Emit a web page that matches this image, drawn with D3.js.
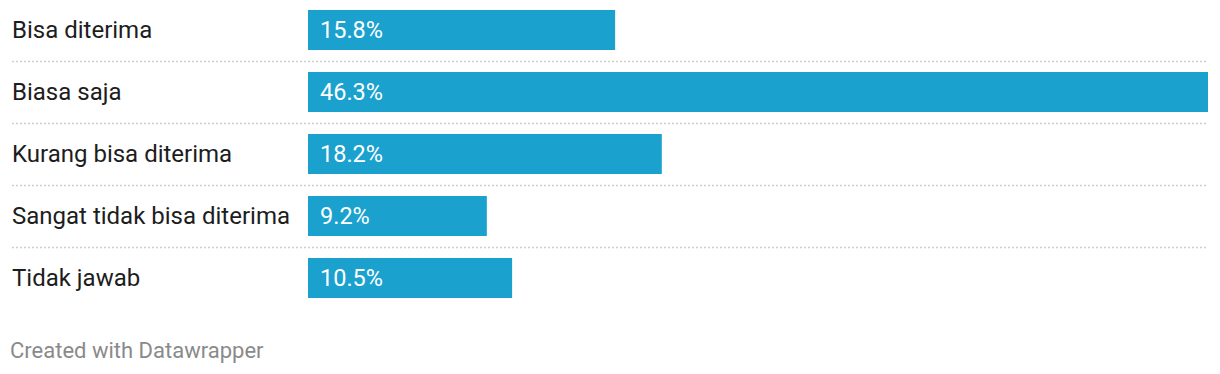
<!DOCTYPE html>
<html>
<head>
<meta charset="utf-8">
<script src="https://cdn.jsdelivr.net/npm/d3@7"></script>
<style>
  body { margin: 0; background: #fff; font-family: Roboto, "Noto Sans", sans-serif; }
</style>
</head>
<body>
<div id="chart"></div>
<script>
const categories = ["Bisa diterima", "Biasa saja", "Kurang bisa diterima", "Sangat tidak bisa diterima", "Tidak jawab"];
const values = [15.8, 46.3, 18.2, 9.2, 10.5];
const footerText = "Created with Datawrapper";

const width = 1220, height = 374;
const barLeft = 308, barRight = 1208;
const rowStep = 62, barH = 40, chartTop = 10;

const svg = d3.select("#chart").append("svg")
    .attr("width", width)
    .attr("height", height);

const x = d3.scaleLinear()
    .domain([0, d3.max(values)])
    .range([barLeft, barRight]);

const y = d3.scaleBand()
    .domain(categories)
    .range([chartTop, chartTop + rowStep * (categories.length - 1) + barH])
    .paddingInner((rowStep - barH) / rowStep)
    .paddingOuter(0);

const rows = categories.map(function (c, i) { return { label: c, value: values[i] }; });

// dotted separators between rows
svg.selectAll("line.sep")
    .data(categories.slice(1))
    .enter()
    .append("line")
    .attr("class", "sep")
    .attr("x1", 12)
    .attr("x2", barRight)
    .attr("y1", function (d) { return Math.round(y(d) - (rowStep - barH) / 2) + 0.5; })
    .attr("y2", function (d) { return Math.round(y(d) - (rowStep - barH) / 2) + 0.5; })
    .attr("stroke", "#cfcfcf")
    .attr("stroke-width", 1.5)
    .attr("stroke-dasharray", "2,2");

svg.selectAll("rect.bar")
    .data(rows)
    .enter()
    .append("rect")
    .attr("class", "bar")
    .attr("x", x(0))
    .attr("y", function (d) { return y(d.label); })
    .attr("width", function (d) { return x(d.value) - x(0); })
    .attr("height", y.bandwidth())
    .attr("fill", "#1aa1ce");

svg.selectAll("text.label")
    .data(rows)
    .enter()
    .append("text")
    .attr("class", "label")
    .attr("x", 12)
    .attr("y", function (d) { return y(d.label) + y.bandwidth() / 2; })
    .attr("dy", "0.35em")
    .attr("fill", "#1d1d1d")
    .style("font-size", "24px")
    .text(function (d) { return d.label; });

svg.selectAll("text.val")
    .data(rows)
    .enter()
    .append("text")
    .attr("class", "val")
    .attr("x", x(0) + 12)
    .attr("y", function (d) { return y(d.label) + y.bandwidth() / 2; })
    .attr("dy", "0.35em")
    .attr("fill", "#ffffff")
    .style("font-size", "23.5px")
    .text(function (d) { return d3.format(".1f")(d.value) + "%"; });

svg.append("text")
    .attr("x", 10)
    .attr("y", 358)
    .attr("fill", "#8a8a8a")
    .style("font-size", "22px")
    .text(footerText);
</script>
</body>
</html>
